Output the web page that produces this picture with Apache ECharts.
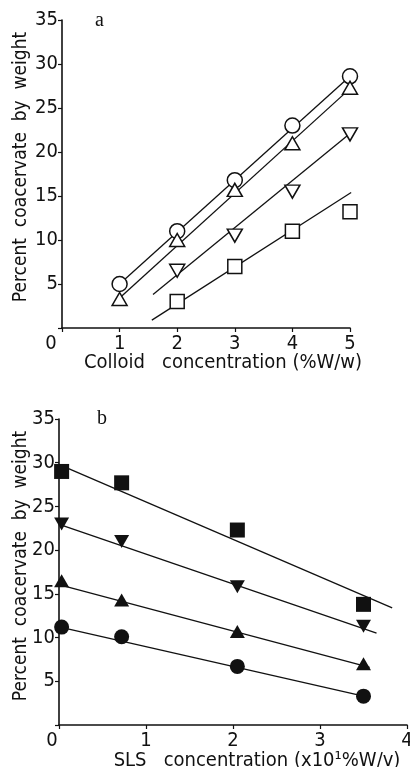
<!DOCTYPE html>
<html>
<head>
<meta charset="utf-8">
<script src="https://cdn.jsdelivr.net/npm/echarts@6/dist/echarts.min.js"></script>
<style>
  html, body { margin: 0; padding: 0; background: #fff; }
  #chart { width: 410px; height: 767px; }
</style>
</head>
<body>
<div id="chart"></div>
<script>
// Panel a - colloid concentration (% w/w)
var colloidX = [1, 2, 3, 4, 5];
var aCircle = [5, 11, 16.8, 23, 28.6];
var aTriUp = [3.3, 10, 15.7, 21, 27.3];
var aTriDownX = [2, 3, 4, 5];
var aTriDown = [6.5, 10.5, 15.5, 22];
var aSquareX = [2, 3, 4, 5];
var aSquare = [3, 7, 11, 13.2];

// fitted lines, panel a  [x, y] end points
var aFitCircle = [[1, 5], [5, 28.6]];
var aFitTriUp = [[1, 3.4], [5, 27.2]];
var aFitTriDown = [[1.58, 3.8], [5, 22.1]];
var aFitSquare = [[1.56, 0.9], [5.02, 15.4]];

// Panel b - SLS concentration (x10^1 % w/v)
var slsX = [0.03, 0.72, 2.05, 3.5];
var bSquare = [29, 27.7, 22.3, 13.8];
var bTriDown = [23, 21, 15.8, 11.3];
var bTriUp = [16.5, 14.3, 10.7, 7];
var bCircle = [11.2, 10.1, 6.7, 3.3];

// fitted lines, panel b
var bFitSquare = [[0.09, 29.4], [3.83, 13.4]];
var bFitTriDown = [[0.02, 22.9], [3.65, 10.5]];
var bFitTriUp = [[0.02, 16], [3.57, 6.6]];
var bFitCircle = [[0.05, 11.1], [3.5, 3.3]];

var font = "'DejaVu Sans Condensed', 'Liberation Sans Narrow', sans-serif";
var triDown = 'path://M0,0L20,0L10,17Z';

function pairs(xs, ys) {
    return xs.map(function (x, i) { return [x, ys[i]]; });
}

var chart = echarts.init(document.getElementById('chart'));

// x axis, with the corner "0" nudged left
function xAxisOf(idx, max, name, zeroShift, namePad, nameGap) {
    return {
        gridIndex: idx,
        type: 'value',
        min: 0,
        max: max,
        interval: 1,
        name: name,
        nameLocation: 'middle',
        nameGap: nameGap,
        nameMoveOverlap: false,
        nameTextStyle: { color: '#111', fontFamily: font, fontSize: 20, padding: [0, 0, 0, namePad] },
        axisLine: { lineStyle: { color: '#111', width: 1.6 } },
        axisTick: { length: 4, lineStyle: { color: '#111', width: 1.2 } },
        splitLine: { show: false },
        axisLabel: {
            color: '#111', fontFamily: font, fontSize: 20, margin: 6,
            formatter: function (v) { return v === 0 ? '{z|0}' : String(v); },
            rich: { z: { fontFamily: font, fontSize: 20, color: '#111', padding: [0, zeroShift, 0, 0] } }
        }
    };
}

function yAxisOf(idx, nameGap, namePad) {
    return {
        gridIndex: idx,
        type: 'value',
        min: 0,
        max: 35,
        interval: 5,
        name: 'Percent  coacervate  by  weight',
        nameLocation: 'middle',
        nameRotate: 90,
        nameGap: nameGap,
        nameMoveOverlap: false,
        nameTextStyle: { color: '#111', fontFamily: font, fontSize: 19, padding: [0, 0, 0, namePad] },
        axisLine: { lineStyle: { color: '#111', width: 1.6 } },
        axisTick: { length: 4, lineStyle: { color: '#111', width: 1.2 } },
        splitLine: { show: false },
        axisLabel: {
            color: '#111', fontFamily: font, fontSize: 20, margin: 4,
            formatter: function (v) { return v === 0 ? '' : String(v); }
        }
    };
}

function fit(idx, data) {
    return {
        type: 'line', xAxisIndex: idx, yAxisIndex: idx, data: data,
        showSymbol: false, silent: true, z: 2,
        lineStyle: { color: '#111', width: 1.3 }
    };
}

function marks(idx, data, symbol, size, filled) {
    return {
        type: 'scatter', xAxisIndex: idx, yAxisIndex: idx, data: data,
        symbol: symbol, symbolSize: size, z: 5,
        itemStyle: {
            color: filled ? '#111' : '#fff',
            borderColor: '#111',
            borderWidth: filled ? 0 : 1.5,
            opacity: 1
        }
    };
}

chart.setOption({
    animation: false,
    backgroundColor: '#fff',
    title: [
        { text: 'a', left: 90, top: 6, textStyle: { fontFamily: "'Liberation Serif', serif", fontSize: 20, fontWeight: 'normal', color: '#111' } },
        { text: 'b', left: 92, top: 404, textStyle: { fontFamily: "'Liberation Serif', serif", fontSize: 20, fontWeight: 'normal', color: '#111' } }
    ],
    grid: [
        { left: 62, top: 20, width: 288, height: 308, outerBoundsMode: 'none' },
        { left: 59, top: 419, width: 348, height: 306, outerBoundsMode: 'none' }
    ],
    xAxis: [
        xAxisOf(0, 5, 'Colloid   concentration (%W/w)', 22, 34, 25),
        xAxisOf(1, 4, 'SLS   concentration (x10¹%W/v)', 14, 48, 26)
    ],
    yAxis: [
        yAxisOf(0, 31, 14),
        yAxisOf(1, 28, 12)
    ],
    series: [
        fit(0, aFitCircle),
        fit(0, aFitTriUp),
        fit(0, aFitTriDown),
        fit(0, aFitSquare),
        marks(0, pairs(colloidX, aCircle), 'circle', 15, false),
        marks(0, pairs(colloidX, aTriUp), 'triangle', [15, 13], false),
        marks(0, pairs(aTriDownX, aTriDown), triDown, [15, 13], false),
        marks(0, pairs(aSquareX, aSquare), 'rect', 14, false),

        fit(1, bFitSquare),
        fit(1, bFitTriDown),
        fit(1, bFitTriUp),
        fit(1, bFitCircle),
        marks(1, pairs(slsX, bSquare), 'rect', 15, true),
        marks(1, pairs(slsX, bTriDown), triDown, [15, 13], true),
        marks(1, pairs(slsX, bTriUp), 'triangle', [15, 13], true),
        marks(1, pairs(slsX, bCircle), 'circle', 15, true)
    ]
});
</script>
</body>
</html>
